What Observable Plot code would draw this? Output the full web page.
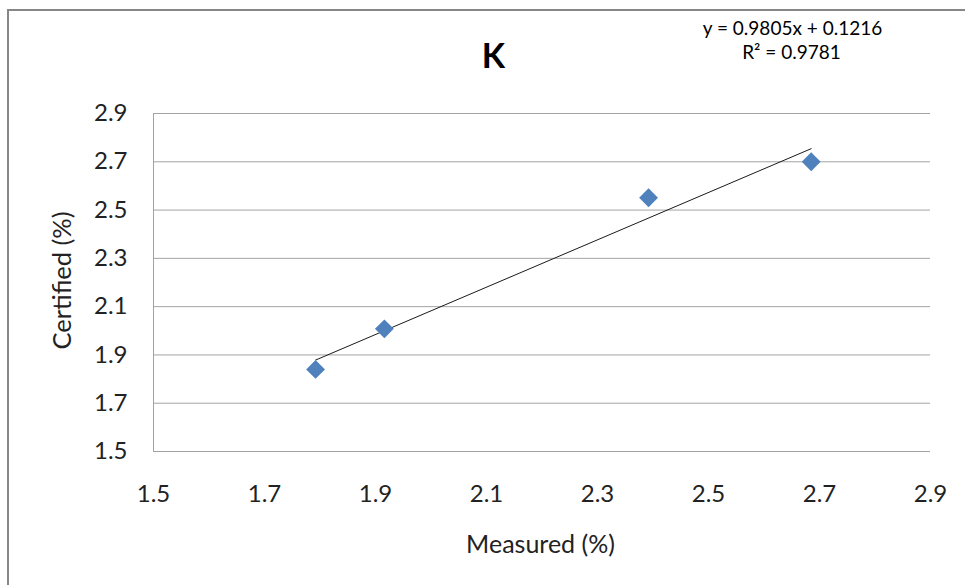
<!DOCTYPE html>
<html>
<head>
<meta charset="utf-8">
<script src="https://cdn.jsdelivr.net/npm/d3@7"></script>
<script src="https://cdn.jsdelivr.net/npm/@observablehq/plot@0.6"></script>
<style>
  html, body { margin: 0; padding: 0; background: #fff; }
  #wrap { position: relative; width: 965px; height: 585px; overflow: hidden; }
  #border { position: absolute; left: 7px; top: 9px; width: 1200px; height: 1200px;
            border-left: 2px solid #878787; border-top: 2px solid #878787; pointer-events: none; }
  #chart { position: absolute; left: 0; top: 0; }
</style>
</head>
<body>
<div id="wrap"><div id="chart"></div><div id="border"></div></div>
<script>
// Data
const measured  = [1.792, 1.916, 2.392, 2.685];
const certified = [1.840, 2.008, 2.551, 2.700];
const xTicks = [1.5, 1.7, 1.9, 2.1, 2.3, 2.5, 2.7, 2.9];
const yTicks = [1.5, 1.7, 1.9, 2.1, 2.3, 2.5, 2.7, 2.9];
const slope = 0.9805;
const intercept = 0.1216;
const rSquared = 0.9781;
const title = "K";
const xLabel = "Measured (%)";
const yLabel = "Certified (%)";

const points = measured.map((m, i) => ({x: m, y: certified[i]}));
const ext = d3.extent(measured);
const trend = ext.map(x => ({x, y: slope * x + intercept}));
const eq1 = `y = ${slope}x + ${intercept}`;
const eq2 = `R² = ${rSquared}`;

const W = 965, H = 585;
const mL = 153, mR = 35, mT = 113, mB = 134;
const cx = mL + (W - mL - mR) / 2;
const cy = mT + (H - mT - mB) / 2;
const fmt = d3.format(".1f");

const chart = Plot.plot({
  width: W, height: H,
  marginLeft: mL, marginRight: mR, marginTop: mT, marginBottom: mB,
  style: {fontFamily: "Lato", fontSize: "24px", color: "#222", background: "#fff"},
  x: {domain: [1.5, 2.9]},
  y: {domain: [1.5, 2.9]},
  marks: [
    Plot.gridY(yTicks, {stroke: "#a3a3a3", strokeOpacity: 1, strokeWidth: 1}),
    Plot.ruleX([1.5], {stroke: "#a3a3a3", strokeWidth: 1}),
    Plot.axisX(xTicks, {tickSize: 0, tickPadding: 33, tickFormat: fmt, fontSize: 24, label: null}),
    Plot.axisY(yTicks, {tickSize: 0, tickPadding: 26, tickFormat: fmt, fontSize: 24, label: null}),
    Plot.line(trend, {x: "x", y: "y", stroke: "#1a1a1a", strokeWidth: 1}),
    Plot.dot(points, {x: "x", y: "y", symbol: "diamond2", r: 8.5, fill: "#4f81bd", stroke: "none"}),
    Plot.text([title], {frameAnchor: "top", dx: 493 - cx, dy: 57 - mT, textAnchor: "middle", lineAnchor: "middle",
      fontSize: 34, fontWeight: "bold", fill: "#000"}),
    Plot.text([eq1], {frameAnchor: "top", dx: 792 - cx, dy: 28 - mT, textAnchor: "middle", lineAnchor: "middle",
      fontSize: 19, fill: "#000"}),
    Plot.text([eq2], {frameAnchor: "top", dx: 791 - cx, dy: 52 - mT, textAnchor: "middle", lineAnchor: "middle",
      fontSize: 19, fill: "#000"}),
    Plot.text([xLabel], {frameAnchor: "bottom", dx: 540 - cx, dy: 544 - (H - mB), textAnchor: "middle", lineAnchor: "middle",
      fontSize: 25, fill: "#222"}),
    Plot.text([yLabel], {frameAnchor: "left", dx: 62 - mL, dy: 280 - cy, rotate: -90, textAnchor: "middle", lineAnchor: "middle",
      fontSize: 25.5, fill: "#222"})
  ]
});
document.getElementById("chart").appendChild(chart);
</script>
</body>
</html>
